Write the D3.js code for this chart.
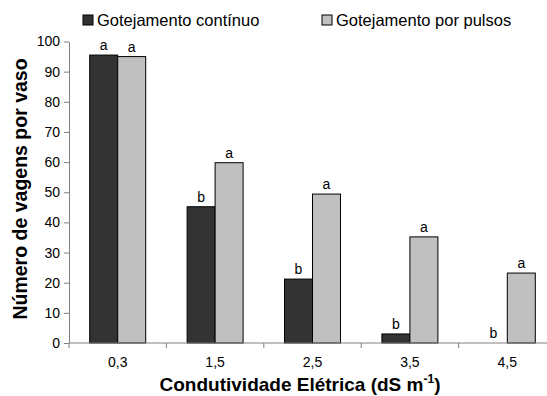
<!DOCTYPE html>
<html>
<head>
<meta charset="utf-8">
<script src="https://cdn.jsdelivr.net/npm/d3@7"></script>
<style>
  html, body { margin: 0; padding: 0; background: #fff; }
  svg { display: block; font-family: "Liberation Sans", Arial, sans-serif; }
</style>
</head>
<body>
<svg id="chart" width="547" height="396"></svg>
<script>
// Electrical conductivity levels (dS m-1)
const categories = ["0,3", "1,5", "2,5", "3,5", "4,5"];
const seriesNames = ["Gotejamento contínuo", "Gotejamento por pulsos"];
const continuo = [95.5, 45.2, 21.2, 3, 0];
const pulsos = [95, 59.8, 49.4, 35.2, 23.2];
const lettersContinuo = ["a", "b", "b", "b", "b"];
const lettersPulsos = ["a", "a", "a", "a", "a"];
const yTicks = [0, 10, 20, 30, 40, 50, 60, 70, 80, 90, 100];
const colors = ["#333333", "#c0c0c0"];

const svg = d3.select("#chart");
const plotLeft = 69, plotTop = 41.5, plotBottom = 343, catW = 97.4;
const plotRight = plotLeft + catW * categories.length;

const x = d3.scaleBand().domain(categories).range([plotLeft, plotRight]).paddingInner(0).paddingOuter(0);
const y = d3.scaleLinear().domain([0, 100]).range([plotBottom, plotTop]);
const barW = 28;

// bars with significance letters
const series = [continuo, pulsos];
const letters = [lettersContinuo, lettersPulsos];
series.forEach((vals, s) => {
  const g = svg.append("g");
  g.selectAll("rect").data(vals).join("rect")
    .attr("x", (d, i) => x(categories[i]) + x.bandwidth() / 2 - barW + s * barW)
    .attr("y", d => y(d))
    .attr("width", barW)
    .attr("height", d => y(0) - y(d))
    .attr("fill", colors[s])
    .attr("stroke", d => d > 0 ? "#000" : "none")
    .attr("stroke-width", 1);
  g.selectAll("text").data(vals).join("text")
    .attr("x", (d, i) => x(categories[i]) + x.bandwidth() / 2 - barW / 2 + s * barW)
    .attr("y", d => y(d) - 5)
    .attr("text-anchor", "middle")
    .attr("font-size", 14)
    .attr("fill", "#000")
    .text((d, i) => letters[s][i]);
});

// y axis
const yAxis = d3.axisLeft(y).tickValues(yTicks).tickSize(5).tickPadding(4).tickSizeOuter(0);
const gy = svg.append("g").attr("transform", `translate(${plotLeft},0)`).call(yAxis);
gy.select(".domain").attr("stroke", "#808080");
gy.selectAll(".tick line").attr("stroke", "#808080");
gy.selectAll(".tick text").attr("font-size", 14).attr("fill", "#000")
  .attr("font-family", "Liberation Sans, Arial, sans-serif");

// x axis: ticks at category boundaries
const gx = svg.append("g").attr("transform", `translate(0,${plotBottom})`);
gx.append("line").attr("x1", plotLeft).attr("x2", plotRight).attr("y1", 0).attr("y2", 0)
  .attr("stroke", "#808080");
gx.selectAll("line.tk").data(categories).join("line").attr("class", "tk")
  .attr("x1", d => x(d)).attr("x2", d => x(d)).attr("y1", 0).attr("y2", 5)
  .attr("stroke", "#808080");
gx.selectAll("text").data(categories).join("text")
  .attr("x", d => x(d) + x.bandwidth() / 2)
  .attr("y", 24)
  .attr("text-anchor", "middle")
  .attr("font-size", 14)
  .text(d => d);

// axis titles
svg.append("text")
  .attr("transform", "translate(27,189) rotate(-90)")
  .attr("text-anchor", "middle")
  .attr("font-size", 19.5).attr("font-weight", "bold")
  .text("Número de vagens por vaso");

const xt = svg.append("text")
  .attr("x", 300).attr("y", 391)
  .attr("text-anchor", "middle")
  .attr("font-size", 19).attr("font-weight", "bold");
xt.append("tspan").text("Condutividade Elétrica (dS m");
xt.append("tspan").attr("font-size", 12).attr("dy", -8).text("-1");
xt.append("tspan").attr("dy", 8).text(")");

// legend
const legendX = [83, 322];
seriesNames.forEach((name, s) => {
  svg.append("rect").attr("x", legendX[s]).attr("y", 15).attr("width", 10).attr("height", 10)
    .attr("fill", colors[s]).attr("stroke", "#000").attr("stroke-width", 1);
  svg.append("text").attr("x", legendX[s] + 14).attr("y", 26)
    .attr("font-size", 16.5).text(name);
});
</script>
</body>
</html>
